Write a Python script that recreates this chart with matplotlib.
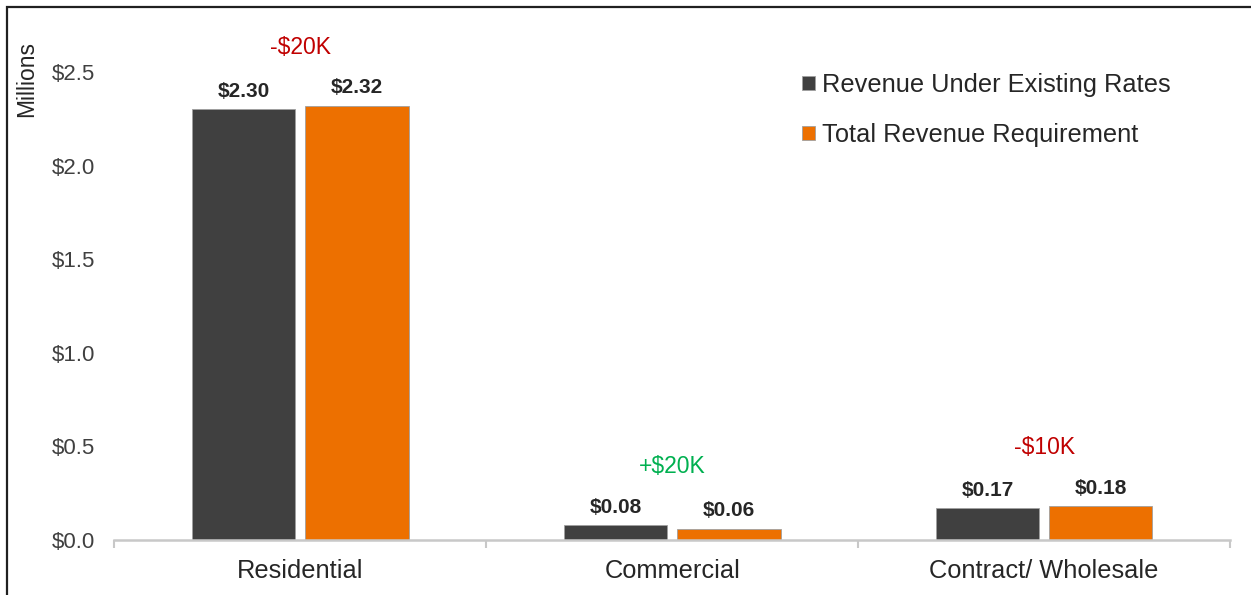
import matplotlib.pyplot as plt
import numpy as np
from matplotlib.patches import Rectangle
from matplotlib.ticker import FuncFormatter

plt.rcParams['font.family'] = ['Liberation Sans', 'DejaVu Sans']

# chart data (millions)
categories = ["Residential", "Commercial", "Contract/ Wholesale"]
existing = [2.30, 0.08, 0.17]
required = [2.32, 0.06, 0.18]
diff_labels = ["-$20K", "+$20K", "-$10K"]
diff_colors = ["#C00000", "#00B050", "#C00000"]
series_names = ["Revenue Under Existing Rates", "Total Revenue Requirement"]
yticks = [0.0, 0.5, 1.0, 1.5, 2.0, 2.5]

DARK = "#404040"
ORANGE = "#ED7000"

fig = plt.figure(figsize=(12.51, 5.95), dpi=100)
W, H = 1251, 595
ax = fig.add_axes([114.5 / W, (H - 540) / H, (1230 - 114.5) / W, (540 - 72) / H])

x = np.arange(len(categories))
bw = 0.278
off = 0.1525
b1 = ax.bar(x - off, existing, bw, color=DARK, edgecolor="#a0a0a0", linewidth=0.6,
            label=series_names[0])
b2 = ax.bar(x + off, required, bw, color=ORANGE, edgecolor="#a0a0a0", linewidth=0.6,
            label=series_names[1])

for bars in (b1, b2):
    for r in bars:
        ax.annotate(f"${r.get_height():.2f}", (r.get_x() + r.get_width() / 2, r.get_height()),
                    xytext=(0, 6), textcoords="offset points", ha="center", va="bottom",
                    fontsize=15, fontweight="bold", color="#262626")

# difference callouts above each group
for i, (lab, col) in enumerate(zip(diff_labels, diff_colors)):
    top = max(existing[i], required[i])
    ax.annotate(lab, (x[i], top), xytext=(0, 42), textcoords="offset points",
                ha="center", va="center", fontsize=16.5, color=col, annotation_clip=False)

ax.set_xlim(-0.5, len(categories) - 0.5)
ax.set_ylim(0, 2.5)
ax.set_yticks(yticks)
ax.yaxis.set_major_formatter(FuncFormatter(lambda v, p: f"${v:.1f}"))
ax.set_xticks(x)
ax.set_xticklabels(categories)
ax.set_xticks(np.arange(-0.5, len(categories)), minor=True)
ax.tick_params(axis="x", which="major", length=0, pad=14, labelsize=18.3, labelcolor="#262626")
ax.tick_params(axis="x", which="minor", length=6, width=1.5, color="#c8c8c8")
ax.tick_params(axis="y", length=0, pad=14, labelsize=16, labelcolor="#404040")

for s in ("top", "right", "left"):
    ax.spines[s].set_visible(False)
ax.spines["bottom"].set_color("#c8c8c8")
ax.spines["bottom"].set_linewidth(1.8)

fig.text(27 / W, 1 - 79 / H, "Millions", rotation=90, ha="center", va="center",
         fontsize=16.5, color="#262626")

leg = fig.legend(loc="upper left", bbox_to_anchor=(792 / W, 1 - 63 / H), frameon=False,
                 fontsize=18.3, handlelength=0.5, handleheight=0.5, handletextpad=0.3,
                 labelspacing=1.02, borderaxespad=0)
for t in leg.get_texts():
    t.set_color("#262626")

# outer frame
fig.patches.append(Rectangle((7 / W, -0.1), 1.2, 1 - 7 / H + 0.1, transform=fig.transFigure,
                             fill=False, edgecolor="#202020", linewidth=1.6))

fig.savefig("out.png", dpi=100)
